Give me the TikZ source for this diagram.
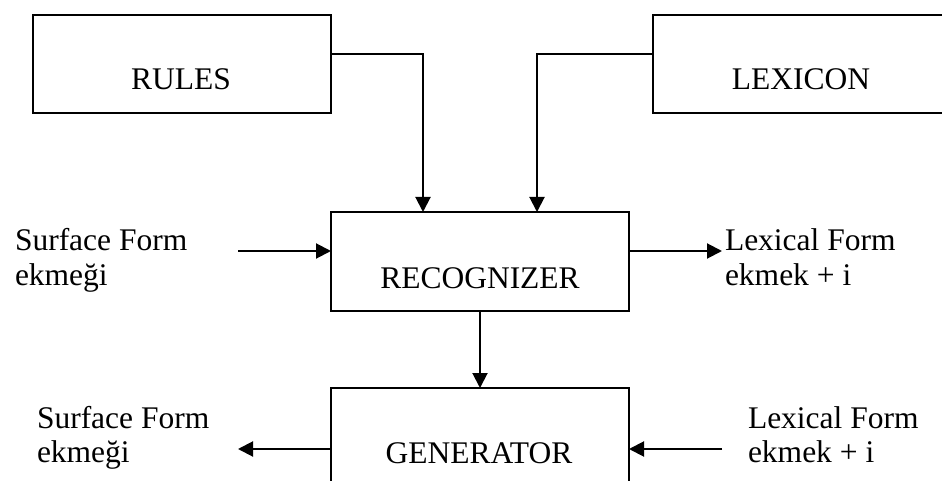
\documentclass[tikz,border=0pt]{standalone}
\usepackage{fontspec}
\setmainfont{Liberation Serif}
\usetikzlibrary{arrows.meta}
\begin{document}
\begin{tikzpicture}[x=1pt,y=-1pt,
  box/.style={draw,line width=2pt,minimum width=298pt,minimum height=98pt,inner sep=0pt,outer sep=0pt},
  txt/.style={font=\fontsize{31.5}{36}\selectfont,inner sep=0pt,outer sep=0pt},
  conn/.style={line width=2pt,-{Triangle[length=15pt,width=15pt]}},
  line cap=butt]
\useasboundingbox (0,0) rectangle (942,481);
\fill[white] (0,0) rectangle (942,481);
% boxes
\node[box] (rules) at (181.5,64) {};
\node[box] (lex) at (801.5,64) {};
\node[box,minimum height=99pt] (rec) at (480,261.5) {};
\node[box,minimum height=99pt] (gen) at (480,437.5) {};
% box texts
\node[txt,anchor=base] (rulesT) at (181,90) {RULES};
\node[txt,anchor=base] (lexT) at (801,90) {LEXICON};
\node[txt,anchor=base] (recT) at (480,288) {RECOGNIZER};
\node[txt,anchor=base] (genT) at (479,463) {GENERATOR};
% side texts
\node[txt,anchor=base west] (sf1) at (15,250) {Surface Form};
\node[txt,anchor=base west] (sf2) at (15,285) {ekmeği};
\node[txt,anchor=base west] (lf1) at (725,250) {Lexical Form};
\node[txt,anchor=base west] (lf2) at (725,285) {ekmek + i};
\node[txt,anchor=base west] (sf3) at (37,428) {Surface Form};
\node[txt,anchor=base west] (sf4) at (37,462) {ekmeği};
\node[txt,anchor=base west] (lf3) at (748,428) {Lexical Form};
\node[txt,anchor=base west] (lf4) at (748,462) {ekmek + i};
% coordinates for free ends
\coordinate (inA) at (238,251);
\coordinate (outA) at (722,251);
\coordinate (outB) at (238,449);
\coordinate (inB) at (722,449);
% connectors
\draw[conn] ([yshift=10pt]rules.east) -| ([xshift=-57pt]rec.north);
\draw[conn] ([yshift=10pt]lex.west) -| ([xshift=57pt]rec.north);
\draw[conn] (inA) -- (inA -| rec.west);
\draw[conn] (outA -| rec.east) -- (outA);
\draw[conn] (rec.south) -- (gen.north);
\draw[conn] (outB -| gen.west) -- (outB);
\draw[conn] (inB) -- (inB -| gen.east);
\end{tikzpicture}
\end{document}
